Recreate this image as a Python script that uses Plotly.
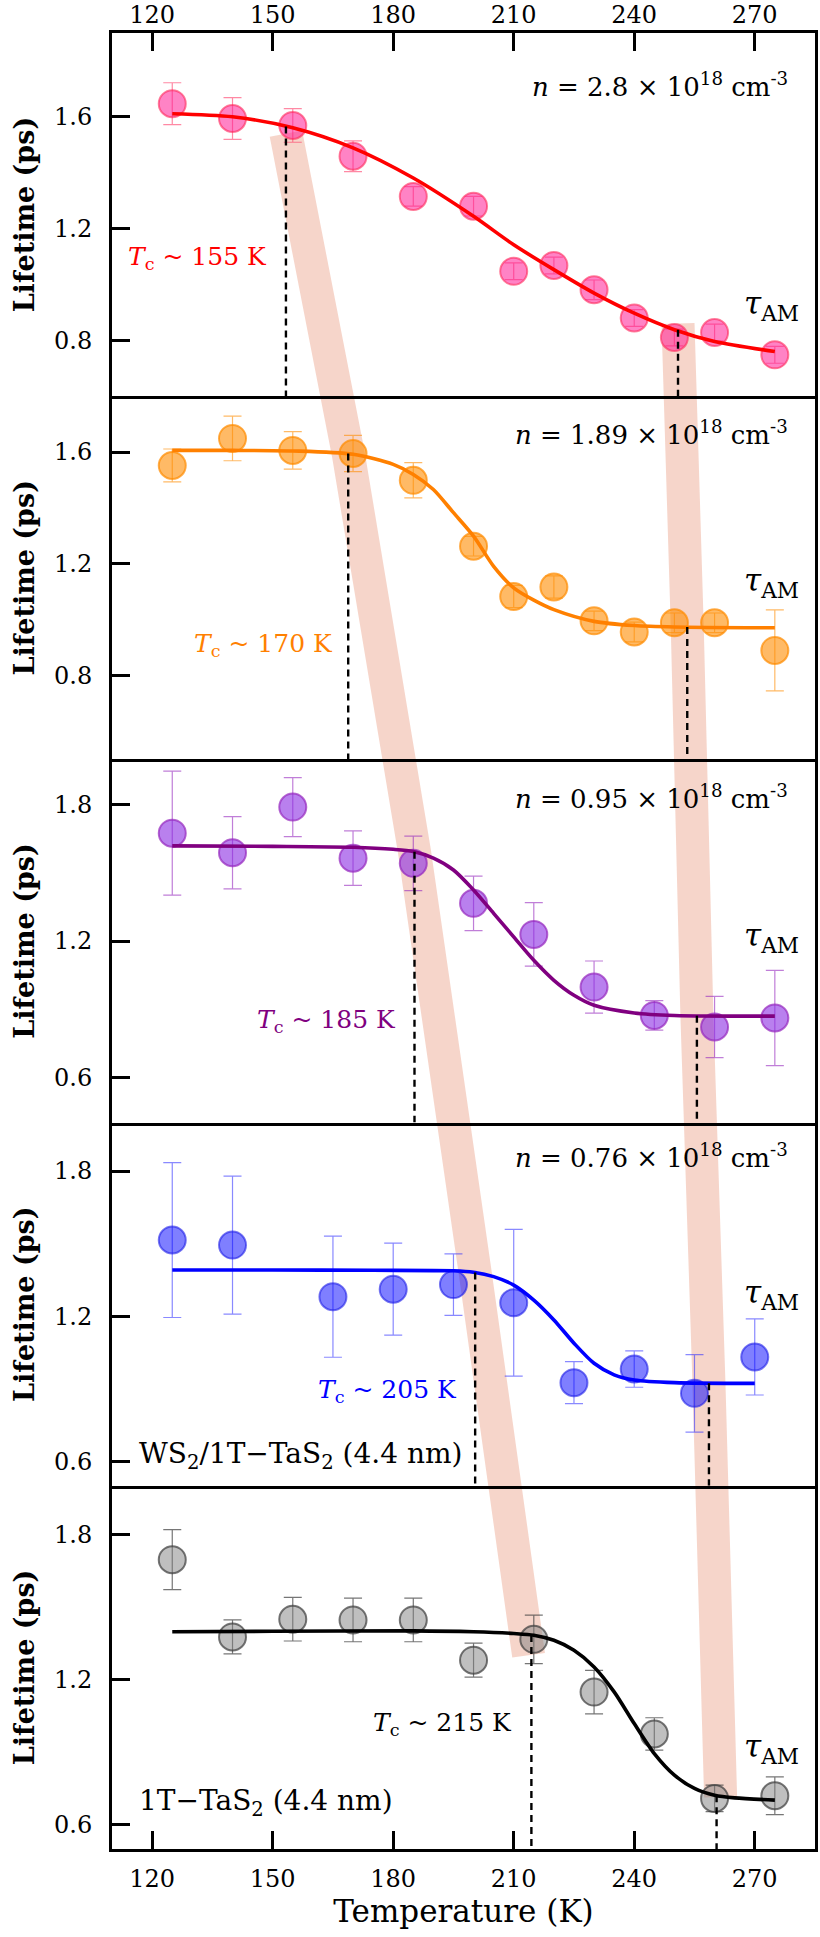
import plotly.graph_objects as go
from plotly.subplots import make_subplots

# ---------------- data ----------------
T1 = [125, 140, 155, 170, 185, 200, 210, 220, 230, 240, 250, 260, 275]
L1 = [1.647, 1.594, 1.569, 1.459, 1.315, 1.280, 1.047, 1.068, 0.981, 0.880, 0.810, 0.828, 0.748]
E1 = [0.075, 0.075, 0.06, 0.055, 0.035, 0.035, 0.03, 0.03, 0.035, 0.03, 0.03, 0.03, 0.03]

T2 = [125, 140, 155, 170, 185, 200, 210, 220, 230, 240, 250, 260, 275]
L2 = [1.552, 1.649, 1.606, 1.595, 1.499, 1.263, 1.083, 1.117, 0.996, 0.956, 0.989, 0.989, 0.890]
E2 = [0.059, 0.08, 0.067, 0.065, 0.063, 0.035, 0.04, 0.04, 0.035, 0.035, 0.035, 0.035, 0.145]

T3 = [125, 140, 155, 170, 185, 200, 215, 230, 245, 260, 275]
L3 = [1.675, 1.589, 1.790, 1.565, 1.542, 1.366, 1.229, 0.997, 0.872, 0.821, 0.861]
E3 = [0.273, 0.159, 0.13, 0.12, 0.12, 0.12, 0.14, 0.115, 0.065, 0.135, 0.21]

T4 = [125, 140, 165, 180, 195, 210, 225, 240, 255, 270]
L4 = [1.515, 1.494, 1.281, 1.312, 1.331, 1.256, 0.926, 0.982, 0.882, 1.032]
E4 = [0.32, 0.285, 0.25, 0.19, 0.127, 0.303, 0.087, 0.075, 0.16, 0.157]

T5 = [125, 140, 155, 170, 185, 200, 215, 230, 245, 260, 275]
L5 = [1.695, 1.376, 1.449, 1.446, 1.446, 1.280, 1.366, 1.148, 0.975, 0.709, 0.720]
E5 = [0.124, 0.07, 0.09, 0.09, 0.09, 0.07, 0.1, 0.09, 0.067, 0.055, 0.078]

# fitted curves
F1_T = [125, 140, 155, 170, 185, 200, 210, 220, 230, 240, 250, 260, 275]
F1_V = [1.611, 1.600, 1.561, 1.489, 1.381, 1.244, 1.142, 1.053, 0.969, 0.897, 0.838, 0.796, 0.760]
F2_T = [125, 140, 155, 170, 180, 185, 190, 195, 200, 205, 210, 215, 220, 230, 240, 250, 275]
F2_V = [1.606, 1.606, 1.604, 1.592, 1.556, 1.520, 1.466, 1.383, 1.299, 1.191, 1.114, 1.070, 1.036, 0.994, 0.979, 0.974, 0.971]
F3_T = [125, 150, 170, 180, 185, 190, 195, 200, 205, 210, 215, 220, 225, 230, 240, 250, 275]
F3_V = [1.619, 1.617, 1.613, 1.604, 1.594, 1.565, 1.513, 1.425, 1.322, 1.218, 1.115, 1.027, 0.961, 0.917, 0.883, 0.872, 0.869]
F4_T = [125, 150, 175, 195, 200, 205, 210, 215, 220, 225, 230, 235, 240, 250, 270]
F4_V = [1.391, 1.391, 1.390, 1.388, 1.382, 1.364, 1.329, 1.267, 1.185, 1.089, 1.006, 0.958, 0.937, 0.926, 0.923]
F5_T = [125, 150, 185, 200, 210, 215, 220, 225, 230, 235, 240, 245, 250, 255, 260, 265, 275]
F5_V = [1.397, 1.399, 1.401, 1.397, 1.390, 1.383, 1.362, 1.321, 1.252, 1.149, 1.018, 0.894, 0.805, 0.750, 0.722, 0.711, 0.702]

# dashed marker lines (Tc and tau_AM onset)
TC_LEFT_T = [153.3, 168.8, 185.3, 200.4, 214.4]
TC_LEFT_V = [1.565, 1.595, 1.593, 1.381, 1.384]
TC_RIGHT_T = [250.9, 253.2, 255.6, 258.6, 260.5]
TC_RIGHT_V = [0.838, 0.974, 0.871, 0.924, 0.722]

# guide bands: (panel, temperature, value)
BAND_LEFT = [(1, 153.3, 1.54), (2, 168.8, 1.595), (3, 185.3, 1.593), (4, 200.4, 1.381), (5, 213.7, 1.30)]
BAND_RIGHT = [(1, 250.9, 0.86), (2, 253.2, 0.974), (3, 255.6, 0.871), (4, 258.6, 0.924), (5, 261.5, 0.715)]

N_LABELS = ["2.8", "1.89", "0.95", "0.76", None]
TC_LABELS = ["155", "170", "185", "205", "215"]
TC_LABEL_POS = [(149.1, 1.096), (165.4, 0.911), (181.1, 0.846), (196.5, 0.892), (210.1, 1.015)]
TAU_POS = [0.924, 1.133, 1.217, 1.292, 0.916]
Y_RANGES = [(0.6, 1.9), (0.5, 1.8), (0.4, 2.0), (0.5, 2.0), (0.5, 2.0)]
Y_TICKS = [[0.8, 1.2, 1.6], [0.8, 1.2, 1.6], [0.6, 1.2, 1.8], [0.6, 1.2, 1.8], [0.6, 1.2, 1.8]]
X_TICKS = [120, 150, 180, 210, 240, 270]

# ---------------- styles ----------------
FILL = ["rgba(255,30,150,0.55)", "rgba(255,140,0,0.6)", "rgba(138,43,226,0.6)",
        "rgba(0,0,255,0.5)", "rgba(128,128,128,0.5)"]
EDGE = ["rgba(255,40,90,0.6)", "rgba(255,140,0,0.7)", "rgba(150,40,190,0.7)",
        "rgba(30,30,230,0.6)", "rgba(60,60,60,0.7)"]
ERRC = ["rgba(255,40,90,0.55)", "rgba(255,140,0,0.6)", "rgba(150,40,190,0.6)",
        "rgba(40,40,255,0.55)", "rgba(60,60,60,0.7)"]
CURVE = ["#ff0000", "#ff8000", "#800080", "#0000ff", "#000000"]
FONT = "DejaVu Serif"

data = [(T1, L1, E1, F1_T, F1_V), (T2, L2, E2, F2_T, F2_V), (T3, L3, E3, F3_T, F3_V),
        (T4, L4, E4, F4_T, F4_V), (T5, L5, E5, F5_T, F5_V)]

fig = make_subplots(rows=5, cols=1, vertical_spacing=0)

for i, (T, L, E, FT, FV) in enumerate(data):
    r = i + 1
    fig.add_trace(go.Scatter(
        x=T, y=L, mode="markers",
        error_y=dict(type="data", array=E, color=ERRC[i], thickness=1.2, width=9),
        marker=dict(size=27, color=FILL[i], line=dict(color=EDGE[i], width=2)),
        showlegend=False), row=r, col=1)
    fig.add_trace(go.Scatter(
        x=FT, y=FV, mode="lines", line=dict(color=CURVE[i], width=3.6, shape="spline", smoothing=0.8),
        showlegend=False), row=r, col=1)
    ymin = Y_RANGES[i][0]
    for tx, ty in ((TC_LEFT_T[i], TC_LEFT_V[i]), (TC_RIGHT_T[i], TC_RIGHT_V[i])):
        fig.add_trace(go.Scatter(
            x=[tx, tx], y=[ty, ymin], mode="lines",
            line=dict(color="black", width=2.4, dash="7px,5px"), showlegend=False), row=r, col=1)

# ---------------- axes ----------------
for i in range(5):
    r = i + 1
    yk = "yaxis" if r == 1 else f"yaxis{r}"
    xk = "xaxis" if r == 1 else f"xaxis{r}"
    fig.layout[yk].update(
        range=list(Y_RANGES[i]), tickvals=Y_TICKS[i], ticktext=[f"{v:.1f}" for v in Y_TICKS[i]],
        ticks="inside", ticklen=18, tickwidth=3, tickcolor="black",
        showline=True, linewidth=3, linecolor="black", mirror=True, automargin=False,
        showgrid=False, zeroline=False, ticklabelstandoff=12,
        tickfont=dict(family=FONT, size=24, color="black"),
        title=dict(text="<b>Lifetime (ps)</b>", font=dict(family=FONT, size=27, color="black"), standoff=12))
    xcfg = dict(range=[110, 285], showline=True, linewidth=3.4, linecolor="black", automargin=False,
                showgrid=False, zeroline=False, tickvals=X_TICKS,
                tickfont=dict(family=FONT, size=24, color="black"))
    if r == 1:
        xcfg.update(side="top", mirror=True, ticks="inside", ticklen=18, tickwidth=3, tickcolor="black",
                    showticklabels=True, ticklabelstandoff=-3)
    elif r == 5:
        xcfg.update(side="bottom", mirror=False, ticks="inside", ticklen=18, tickwidth=3, tickcolor="black",
                    showticklabels=True, ticklabelstandoff=6,
                    title=dict(text="Temperature (K)", font=dict(family=FONT, size=31, color="black"),
                               standoff=8))
    else:
        xcfg.update(side="bottom", mirror=False, ticks="", showticklabels=False)
    fig.layout[xk].update(**xcfg)


# ---------------- guide bands ----------------
def paper_y(panel, value):
    yk = "yaxis" if panel == 1 else f"yaxis{panel}"
    d0, d1 = fig.layout[yk].domain
    lo, hi = Y_RANGES[panel - 1]
    return d0 + (value - lo) / (hi - lo) * (d1 - d0)


for band in (BAND_LEFT, BAND_RIGHT):
    pts = [(t, paper_y(p, v)) for p, t, v in band]
    path = "M " + " L ".join(f"{t},{y}" for t, y in pts)
    fig.add_shape(type="path", path=path, xref="x", yref="paper", layer="below",
                  line=dict(color="rgba(233,150,122,0.4)", width=33))

# ---------------- annotations ----------------
N_Y = [0.858, 0.90, 0.896, 0.907]
for i in range(5):
    r = i + 1
    xr = "x" if r == 1 else f"x{r}"
    yr = "y" if r == 1 else f"y{r}"
    if N_LABELS[i]:
        fig.add_annotation(x=0.965, y=N_Y[i], xref=f"{xr} domain", yref=f"{yr} domain",
                           text=f"<i>n</i> = {N_LABELS[i]} × 10<sup>18</sup> cm<sup>-3</sup>",
                           showarrow=False, xanchor="right", yanchor="middle",
                           font=dict(family=FONT, size=26, color="black"))
    fig.add_annotation(x=281.5, y=TAU_POS[i], xref=xr, yref=yr,
                       text="<i>τ</i><sub>AM</sub>", showarrow=False, xanchor="right", yanchor="middle",
                       font=dict(family=FONT, size=31, color="black"))
    tx, ty = TC_LABEL_POS[i]
    fig.add_annotation(x=tx, y=ty, xref=xr, yref=yr,
                       text=f"<i>T</i><sub>c</sub> ~ {TC_LABELS[i]} K", showarrow=False,
                       xanchor="right", yanchor="middle",
                       font=dict(family=FONT, size=25, color=CURVE[i]))

fig.add_annotation(x=0.035, y=0.625, xref="x4 domain", yref="y4",
                   text="WS<sub>2</sub>/1T−TaS<sub>2</sub> (4.4 nm)", showarrow=False,
                   xanchor="left", yanchor="middle", font=dict(family=FONT, size=28, color="black"))
fig.add_annotation(x=0.035, y=0.69, xref="x5 domain", yref="y5",
                   text="1T−TaS<sub>2</sub> (4.4 nm)", showarrow=False,
                   xanchor="left", yanchor="middle", font=dict(family=FONT, size=28, color="black"))

fig.update_layout(
    width=820, height=1937,
    margin=dict(l=112, r=5, t=33, b=88),
    paper_bgcolor="white", plot_bgcolor="rgba(0,0,0,0)",
    font=dict(family=FONT, color="black"),
)

fig.write_html("out.html")
